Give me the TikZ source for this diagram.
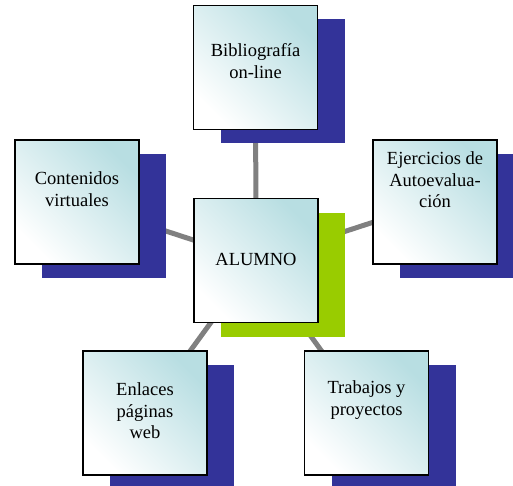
\documentclass[tikz,border=0pt]{standalone}
\usepackage{fontspec}
\setmainfont{Liberation Serif}
\usetikzlibrary{shadows,backgrounds}

\definecolor{boxcyan}{RGB}{184,222,226}
\definecolor{shadowblue}{RGB}{51,51,153}
\definecolor{shadowgreen}{RGB}{153,204,0}
\definecolor{linkgray}{RGB}{128,128,128}

\begin{document}
\begin{tikzpicture}[x=1pt,y=-1pt,
  box/.style={draw, line width=1.5pt, minimum size=124pt, inner sep=0pt,
    bottom color=white, middle color=boxcyan!8!white, top color=boxcyan, shading angle=-45,
    copy shadow={shadow xshift=27pt, shadow yshift=-14pt, fill=#1, draw=none}},
  box/.default=shadowblue,
  lbl/.style={align=center, font=\fontsize{18.5}{21.5}\selectfont},
  link/.style={draw=linkgray, line width=5pt}]
  \useasboundingbox (0,0) rectangle (513,486);

  \node[box] (bib) at (255.5,67.5) {};
  \node[box] (cont) at (77,202) {};
  \node[box] (ejer) at (435,202) {};
  \node[box] (enl) at (145,413) {};
  \node[box] (trab) at (366.5,413) {};
  \node[box=shadowgreen] (alumno) at (256,260.5) {};

  % connectors behind the boxes
  \begin{scope}[on background layer]
    \foreach \n in {bib,cont,ejer,enl,trab}
      \draw[link] (alumno.center) -- (\n.center);
  \end{scope}

  \node[lbl] (bibT) at ([yshift=6.5pt]bib.center) {Bibliografía\\on-line};
  \node[lbl] (contT) at ([yshift=13pt]cont.center) {Contenidos\\virtuales};
  \node[lbl] (ejerT) at ([yshift=22pt]ejer.center) {Ejercicios de\\Autoevalua-\\ción};
  \node[lbl] (enlT) at ([yshift=2pt]enl.center) {Enlaces\\páginas\\web};
  \node[lbl] (trabT) at ([yshift=13pt]trab.center) {Trabajos y\\proyectos};
  \node[lbl] (alumnoT) at ([yshift=1.5pt]alumno.center) {ALUMNO};
\end{tikzpicture}
\end{document}
